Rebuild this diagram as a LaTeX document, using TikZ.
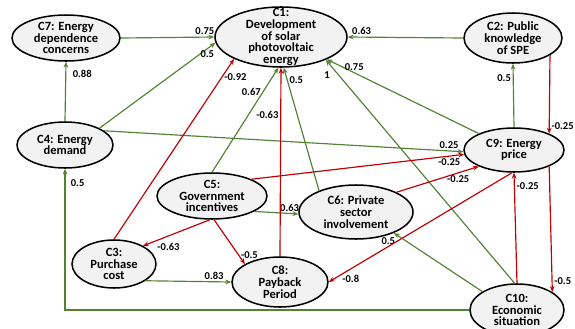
\documentclass[tikz,border=0pt]{standalone}
\usepackage{fontspec}
\setmainfont{Carlito}
\usetikzlibrary{arrows.meta, shapes.geometric}

\definecolor{posgreen}{RGB}{84,130,53}
\definecolor{negred}{RGB}{192,0,0}
\definecolor{nodegray}{RGB}{242,242,242}

\begin{document}
\begin{tikzpicture}[x=0.03cm, y=-0.03cm,
    concept/.style={ellipse, draw=black, line width=1.3pt, fill=nodegray, inner sep=0pt},
    conceptlabel/.style={align=center, inner sep=0pt, font=\fontsize{10.7}{10}\selectfont\bfseries},
    posarrow/.style={draw=posgreen, line width=1pt, -{Stealth[length=5pt,width=4pt]}},
    negarrow/.style={draw=negred, line width=1pt, -{Stealth[length=5pt,width=4pt]}},
    weight/.style={font=\fontsize{9}{9}\selectfont\bfseries, inner sep=1.5pt}]

    \clip (0,0) rectangle (575,328);

    % concepts
    \node[concept, minimum width=3.96cm, minimum height=1.8cm, label={[conceptlabel]center:{C1:\\Development\\of solar\\photovoltaic\\energy}}] (c1) at (281,37) {};
    \node[concept, minimum width=2.94cm, minimum height=1.5cm, label={[conceptlabel]center:{C2: Public\\knowledge\\of SPE}}] (c2) at (513,38) {};
    \node[concept, minimum width=3.24cm, minimum height=1.38cm, label={[conceptlabel]center:{C7: Energy\\dependence\\concerns}}] (c7) at (66,38) {};
    \node[concept, minimum width=2.88cm, minimum height=1.38cm, label={[conceptlabel]center:{C4: Energy\\demand}}] (c4) at (65,145) {};
    \node[concept, minimum width=3.3cm, minimum height=1.38cm, label={[conceptlabel]center:{C5:\\Government\\incentives}}] (c5) at (212,196) {};
    \node[concept, minimum width=3.42cm, minimum height=1.62cm, label={[conceptlabel]center:{C6: Private\\sector\\involvement}}] (c6) at (356,212) {};
    \node[concept, minimum width=3.0cm, minimum height=1.32cm, label={[conceptlabel]center:{C9: Energy\\price}}] (c9) at (514,150) {};
    \node[concept, minimum width=2.52cm, minimum height=1.44cm, label={[conceptlabel]center:{C3:\\Purchase\\cost}}] (c3) at (114,264) {};
    \node[concept, minimum width=2.88cm, minimum height=1.5cm, label={[conceptlabel]center:{C8:\\Payback\\Period}}] (c8) at (280,282) {};
    \node[concept, minimum width=2.82cm, minimum height=1.56cm, label={[conceptlabel]center:{C10:\\Economic\\situation}}] (c10) at (517,310) {};

    % positive links
    \draw[posarrow] (c7.east) -- node[weight, pos=0.9, above] {0.75} (c1.west);
    \draw[posarrow] (c4.26) -- node[weight, pos=0.93, below] {0.5} (c1.185);
    \draw[posarrow] (c4.north) -- node[weight, pos=0.8, right=4pt] {0.88} (c7.south);
    \draw[posarrow] (c2.west) -- node[weight, pos=0.88, above] {0.63} (c1.east);
    \draw[posarrow] (c9.north) -- node[weight, pos=0.78, left] {0.5} (c2.south);
    \draw[posarrow] (c9.155) -- node[weight, pos=0.82, above] {0.75} (c1.-26);
    \draw[posarrow] (c10.95) -- node[weight, pos=0.93, left=6pt] {1} (c1.-27);
    \draw[posarrow] (c10.152) -- node[weight, pos=0.96, below left] {0.5} (c6.-29);
    \draw[posarrow] (c10.west) -| node[weight, pos=0.95, right=3pt] {0.5} (c4.south);
    \draw[posarrow] (c4.20) -- node[weight, pos=0.96, above] {0.25} (c9.182);
    \draw[posarrow] (c5.north) -- node[weight, pos=0.77, left] {0.67} (c1.265);
    \draw[posarrow] (c6.150) -- node[weight, pos=0.9, right] {0.5} (c1.-85);
    \draw[posarrow] (c5.-20) -- node[weight, pos=0.8, above] {0.63} (c6.182);
    \draw[posarrow] (c3.-28) -- node[weight, pos=0.8, above] {0.83} (c8.west);

    % negative links
    \draw[negarrow] (c2.-25) -- node[weight, pos=0.91, right] {-0.25} (c9.25);
    \draw[negarrow] (c10.north) -- node[weight, pos=0.88, right] {-0.25} (c9.south);
    \draw[negarrow] (c9.-25) -- node[weight, pos=0.91, right] {-0.5} (c10.27);
    \draw[negarrow] (c5.23) -- node[weight, pos=0.93, below] {-0.25} (c9.185);
    \draw[negarrow] (c6.26) -- node[weight, pos=0.75, below] {-0.25} (c9.205);
    \draw[negarrow] (c9.265) -- node[weight, pos=0.88, below=3pt] {-0.8} (c8.east);
    \draw[negarrow] (c3.north) -- node[weight, pos=0.9, right] {-0.92} (c1.205);
    \draw[negarrow] (c8.north) -- node[weight, pos=0.75, left] {-0.63} (c1.south);
    \draw[negarrow] (c5.265) -- node[weight, pos=0.82, below right] {-0.63} (c3.32);
    \draw[negarrow] (c5.275) -- node[weight, pos=0.8, right] {-0.5} (c8.153);
\end{tikzpicture}
\end{document}
